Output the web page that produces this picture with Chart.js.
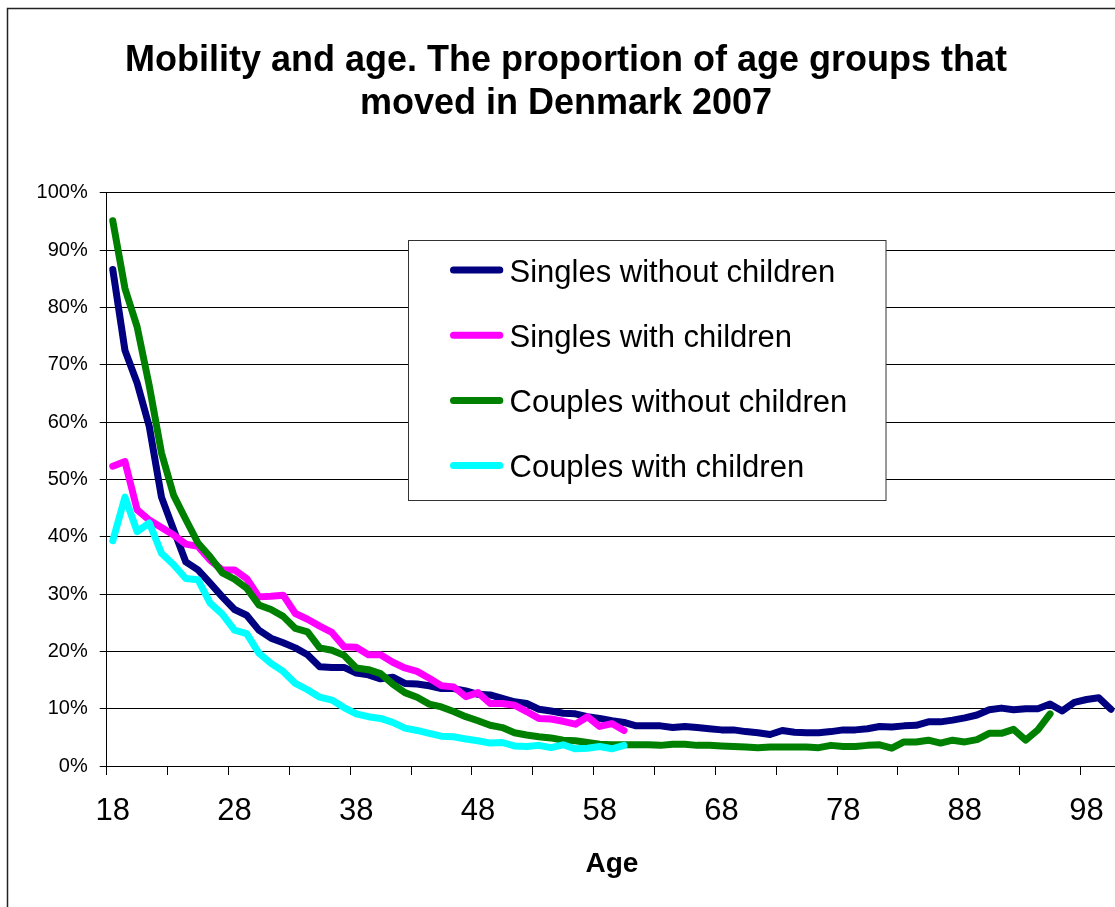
<!DOCTYPE html>
<html>
<head>
<meta charset="utf-8">
<script src="https://cdn.jsdelivr.net/npm/chart.js@4.4.1/dist/chart.umd.min.js"></script>
<style>
  html, body { margin: 0; padding: 0; overflow: hidden; background: #ffffff; }
  canvas { display: block; }
</style>
</head>
<body>
<canvas id="c" width="1132" height="907" style="width:1132px;height:907px"></canvas>
<script>
// ---- Data ----
const titleLines = ['Mobility and age. The proportion of age groups that', 'moved in Denmark 2007'];

const ages = [18,19,20,21,22,23,24,25,26,27,28,29,30,31,32,33,34,35,36,37,38,39,40,41,42,43,44,45,46,47,
  48,49,50,51,52,53,54,55,56,57,58,59,60,61,62,63,64,65,66,67,68,69,70,71,72,73,74,75,76,77,
  78,79,80,81,82,83,84,85,86,87,88,89,90,91,92,93,94,95,96,97,98,99,100];

const xLabelAges = [18, 28, 38, 48, 58, 68, 78, 88, 98];

const singlesWithoutChildren = [86.6,72.5,66.8,59.2,46.9,41.2,35.6,34.2,31.9,29.5,
  27.3,26.3,23.7,22.3,21.5,20.6,19.4,17.3,17.2,17.2,
  16.2,15.9,15.2,15.5,14.4,14.3,14.0,13.5,13.5,13.1,
  12.5,12.4,11.8,11.2,10.9,9.9,9.6,9.2,9.1,8.6,
  8.3,7.9,7.6,7.0,7.0,7.0,6.7,6.9,6.7,6.5,
  6.3,6.3,6.0,5.8,5.5,6.2,5.9,5.8,5.8,6.0,
  6.3,6.3,6.5,6.9,6.8,7.0,7.1,7.7,7.7,8.0,
  8.4,8.9,9.8,10.1,9.8,10.0,10.0,10.8,9.6,11.1,
  11.6,11.9,9.9];

const singlesWithChildren = [52.3,53.1,44.7,42.9,41.6,40.3,38.7,38.3,35.9,34.2,
  34.2,32.7,29.5,29.6,29.8,26.6,25.6,24.4,23.3,20.8,
  20.7,19.4,19.4,18.1,17.1,16.5,15.3,14.0,13.8,12.1,
  12.8,10.9,10.9,10.6,9.5,8.3,8.2,7.8,7.3,8.6,
  6.9,7.4,6.2];

const couplesWithoutChildren = [95.1,83.3,76.6,66.3,54.6,47.2,43.0,38.9,36.5,33.7,
  32.6,31.0,28.1,27.3,26.1,24.0,23.4,20.6,20.2,19.3,
  17.1,16.8,16.1,14.3,12.8,12.0,10.8,10.3,9.5,8.6,
  7.9,7.1,6.7,5.8,5.4,5.1,4.9,4.5,4.4,4.1,
  3.8,3.7,3.7,3.7,3.7,3.6,3.8,3.8,3.6,3.6,
  3.5,3.4,3.3,3.2,3.3,3.3,3.3,3.3,3.2,3.6,
  3.4,3.4,3.6,3.7,3.1,4.2,4.2,4.5,4.0,4.5,
  4.2,4.6,5.7,5.7,6.4,4.5,6.3,9.1];

const couplesWithChildren = [39.3,46.9,40.9,42.4,37.1,35.1,32.7,32.5,28.4,26.5,
  23.7,23.1,19.7,17.9,16.5,14.4,13.3,12.0,11.5,10.2,
  9.1,8.6,8.3,7.6,6.6,6.2,5.7,5.2,5.1,4.7,
  4.4,4.0,4.1,3.5,3.4,3.6,3.2,3.7,3.0,3.1,
  3.4,3.0,3.6];

const seriesNames = ['Singles without children', 'Singles with children', 'Couples without children', 'Couples with children'];
const seriesColors = ['#000080', '#FF00FF', '#008000', '#00FFFF'];
const seriesValues = [singlesWithoutChildren, singlesWithChildren, couplesWithoutChildren, couplesWithChildren];

// ---- Chart ----
const FONT = "'Liberation Sans', Arial, Helvetica, sans-serif";

const framePlugin = {
  id: 'frame',
  beforeDraw(chart) {
    const ctx = chart.ctx;
    ctx.save();
    ctx.fillStyle = '#ffffff';
    ctx.fillRect(0, 0, chart.width, chart.height);
    ctx.restore();
  },
  afterDraw(chart) {
    const ctx = chart.ctx;
    ctx.save();
    ctx.strokeStyle = '#222222';
    ctx.lineWidth = 1.5;
    ctx.strokeRect(7.5, 8.5, 1118, 1000);
    ctx.restore();
  }
};

const boxLegendPlugin = {
  id: 'boxLegend',
  afterDatasetsDraw(chart) {
    const ctx = chart.ctx;
    const bx = 408.5, by = 240.5, bw = 477.5, bh = 260;
    ctx.save();
    ctx.fillStyle = '#ffffff';
    ctx.fillRect(bx, by, bw, bh);
    ctx.strokeStyle = '#333333';
    ctx.lineWidth = 1;
    ctx.strokeRect(bx, by, bw, bh);
    chart.data.datasets.forEach((ds, i) => {
      const y = 270 + i * 65.2;
      ctx.strokeStyle = ds.borderColor;
      ctx.lineWidth = 7;
      ctx.lineCap = 'round';
      ctx.beginPath();
      ctx.moveTo(453.5, y);
      ctx.lineTo(499.8, y);
      ctx.stroke();
      ctx.fillStyle = '#000000';
      ctx.font = '31px ' + FONT;
      ctx.textBaseline = 'middle';
      ctx.textAlign = 'left';
      ctx.fillText(ds.label, 509.5, y + 3);
    });
    ctx.restore();
  }
};

const datasets = seriesValues.map((vals, i) => ({
  label: seriesNames[i],
  data: vals,
  borderColor: seriesColors[i],
  backgroundColor: seriesColors[i],
  borderWidth: 7,
  pointRadius: 0,
  pointHoverRadius: 0,
  tension: 0,
  fill: false,
  borderJoinStyle: 'round',
  borderCapStyle: 'round',
  order: 4 - i
}));

new Chart(document.getElementById('c'), {
  type: 'line',
  data: { labels: ages, datasets: datasets },
  options: {
    responsive: false,
    animation: false,
    devicePixelRatio: 1,
    events: [],
    layout: { padding: { top: 10, left: 12.7, right: 12.7, bottom: 0 } },
    plugins: {
      legend: { display: false },
      tooltip: { enabled: false },
      title: {
        display: true,
        text: titleLines,
        color: '#000000',
        font: { family: FONT, size: 36, weight: 'bold', lineHeight: 1.2 },
        padding: { top: 29, bottom: 67.3 }
      }
    },
    scales: {
      x: {
        type: 'category',
        offset: true,
        grid: {
          offset: true,
          drawOnChartArea: false,
          drawTicks: true,
          tickLength: 9,
          lineWidth: 1,
          color: (c) => (c.index % 5 === 0 ? '#000000' : 'rgba(0,0,0,0)'),
          tickColor: (c) => (c.index % 5 === 0 ? '#000000' : 'rgba(0,0,0,0)')
        },
        border: { display: true, color: '#000000', width: 1 },
        ticks: {
          autoSkip: false,
          maxRotation: 0,
          minRotation: 0,
          padding: 21,
          color: '#000000',
          font: { family: FONT, size: 31, lineHeight: 1 },
          callback: function (value, index) {
            const a = ages[index];
            return xLabelAges.includes(a) ? String(a) : '';
          }
        },
        title: {
          display: true,
          text: 'Age',
          color: '#000000',
          font: { family: FONT, size: 28, weight: 'bold', lineHeight: 1.2 },
          padding: { top: 0, bottom: 26 }
        },
        afterFit: (s) => { s.height = 907 - 766; }
      },
      y: {
        min: 0,
        max: 100,
        ticks: {
          stepSize: 10,
          color: '#000000',
          padding: 12,
          font: { family: FONT, size: 20 },
          callback: (v) => v + '%'
        },
        grid: { color: '#000000', lineWidth: 1, drawTicks: true, tickLength: 7 },
        border: { display: true, color: '#000000', width: 1 },
        afterFit: (s) => { s.width = 94; }
      }
    }
  },
  plugins: [framePlugin, boxLegendPlugin]
});
</script>
</body>
</html>
